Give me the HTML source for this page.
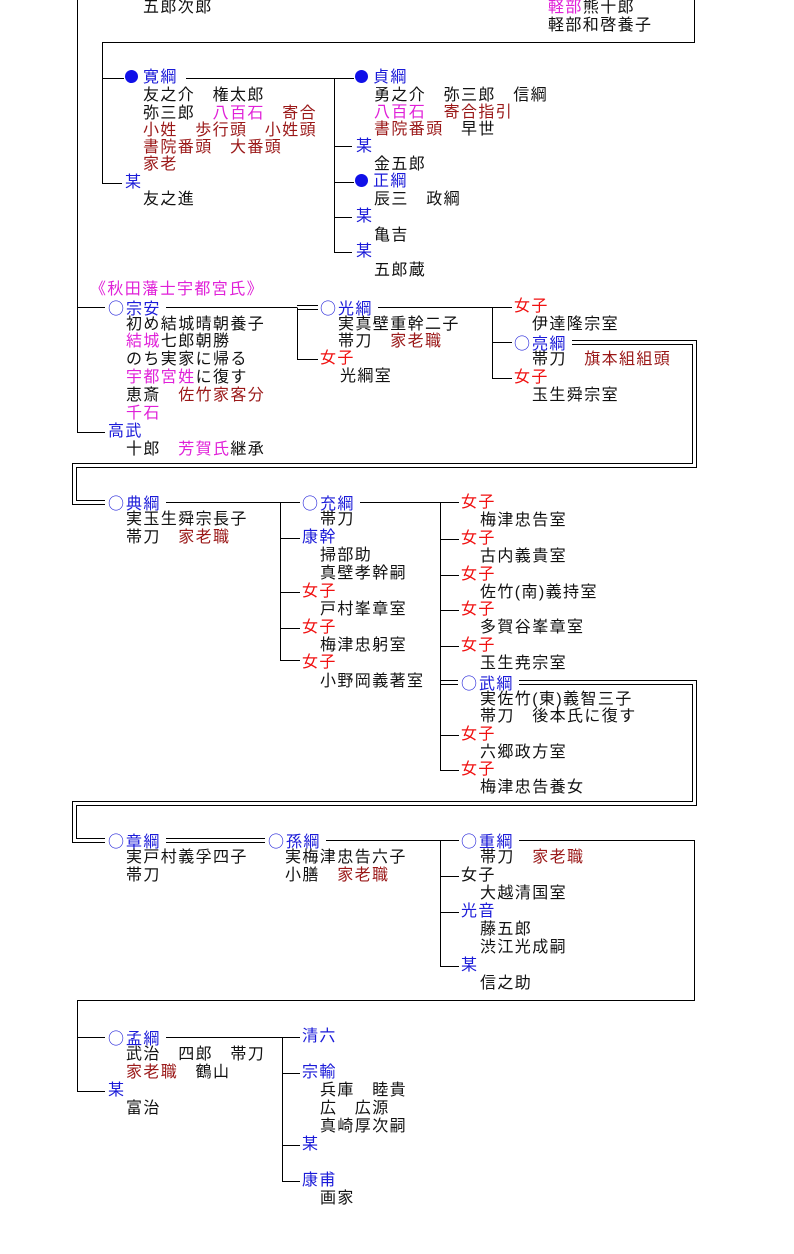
<!DOCTYPE html>
<html><head><meta charset="utf-8">
<style>
body{margin:0;background:#fff;width:794px;height:1254px;overflow:hidden;position:relative;font-family:"Liberation Sans","Noto Sans CJK JP",sans-serif;}
.t{position:absolute;font-size:16px;line-height:18px;letter-spacing:1.4px;white-space:nowrap;color:#111;}
.b{color:#1a1ad8}.r{color:#f01010}.d{color:#9a1818}.m{color:#e020d8}
.h{background:#fff;padding-right:5px}
.c{font-family:"Noto Sans CJK JP",sans-serif;letter-spacing:0;display:inline-block;width:18px}
.f{display:inline-block;width:13px;height:13px;border-radius:50%;background:#1010e8;margin-right:5px;vertical-align:-1px}
svg{position:absolute;left:0;top:0}
</style></head><body>
<svg width="794" height="1254" shape-rendering="crispEdges" fill="none" stroke="#000" stroke-width="1">
<path d="M77.5 0V432.5H105M77.5 307.5H105"/>
<path d="M694.5 0V42.5H102.5V183.5H122M102.5 78.5H124M186 78.5H354M334.5 78.5V252.5H352M334.5 146.5H352M334.5 182.5H354M334.5 217.5H352"/>
<path d="M158 307.5H297M297.5 307.5V359.5H318"/>
<path d="M297 305.5H318M297 309.5H318"/>
<path d="M360 307.5H512M492.5 307.5V378.5H512M492.5 342.5H512"/>
<path d="M565 340.5H696.5V467.5H76.5V500.5H105M565 344.5H692.5V463.5H72.5V504.5H105"/>
<path d="M160 502.5H300M280.5 502.5V660.5H300M280.5 538.5H300M280.5 592.5H300M280.5 628.5H300"/>
<path d="M356 502.5H459M440.5 502.5V770.5H459M440.5 539.5H459M440.5 575.5H459M440.5 610.5H459M440.5 646.5H459M440.5 735.5H459"/>
<path d="M440 680.5H458M440 684.5H458"/>
<path d="M515 680.5H696.5V805.5H76.5V838.5H105M515 684.5H692.5V801.5H72.5V842.5H105"/>
<path d="M162 838.5H265M162 842.5H265"/>
<path d="M322 840.5H459M440.5 840.5V966.5H459M440.5 876.5H459M440.5 912.5H459"/>
<path d="M515 840.5H694.5V1000.5H77.5V1091.5H105M77.5 1037.5H105"/>
<path d="M160 1037.5H300M282.5 1037.5V1181.5H300M282.5 1073.5H300M282.5 1145.5H300"/>
</svg>

<div class="t" style="left:143px;top:-1px">五郎次郎</div>
<div class="t" style="left:548px;top:-1px"><span class="m">軽部</span>熊十郎</div>
<div class="t" style="left:548px;top:17px">軽部和啓養子</div>

<div class="t b h" style="left:125px;top:69px"><span class="f"></span>寛綱</div>
<div class="t" style="left:143px;top:87px">友之介　権太郎</div>
<div class="t" style="left:143px;top:105px">弥三郎　<span class="m">八百石</span>　<span class="d">寄合</span></div>
<div class="t d" style="left:143px;top:122px">小姓　歩行頭　小姓頭</div>
<div class="t d" style="left:143px;top:139px">書院番頭　大番頭</div>
<div class="t d" style="left:143px;top:156px">家老</div>
<div class="t b" style="left:125px;top:174px">某</div>
<div class="t" style="left:143px;top:191px">友之進</div>

<div class="t b" style="left:355px;top:69px"><span class="f"></span>貞綱</div>
<div class="t" style="left:374px;top:87px">勇之介　弥三郎　信綱</div>
<div class="t d" style="left:374px;top:104px"><span class="m">八百石</span>　寄合指引</div>
<div class="t" style="left:374px;top:121px"><span class="d">書院番頭</span>　早世</div>
<div class="t b" style="left:356px;top:138px">某</div>
<div class="t" style="left:374px;top:156px">金五郎</div>
<div class="t b" style="left:355px;top:173px"><span class="f"></span>正綱</div>
<div class="t" style="left:374px;top:191px">辰三　政綱</div>
<div class="t b" style="left:356px;top:208px">某</div>
<div class="t" style="left:374px;top:227px">亀吉</div>
<div class="t b" style="left:356px;top:243px">某</div>
<div class="t" style="left:374px;top:262px">五郎蔵</div>

<div class="t m" style="left:90px;top:281px">《秋田藩士宇都宮氏》</div>
<div class="t b h" style="left:108px;top:298px"><span class="c">○</span>宗安</div>
<div class="t" style="left:126px;top:316px">初め結城晴朝養子</div>
<div class="t" style="left:126px;top:333px"><span class="m">結城</span>七郎朝勝</div>
<div class="t" style="left:126px;top:351px">のち実家に帰る</div>
<div class="t" style="left:126px;top:369px"><span class="m">宇都宮姓</span>に復す</div>
<div class="t" style="left:126px;top:387px">恵斎　<span class="d">佐竹家客分</span></div>
<div class="t m" style="left:126px;top:405px">千石</div>
<div class="t b" style="left:108px;top:423px">高武</div>
<div class="t" style="left:126px;top:441px">十郎　<span class="m">芳賀氏</span>継承</div>

<div class="t b h" style="left:320px;top:298px"><span class="c">○</span>光綱</div>
<div class="t" style="left:338px;top:316px">実真壁重幹二子</div>
<div class="t" style="left:338px;top:333px">帯刀　<span class="d">家老職</span></div>
<div class="t r" style="left:320px;top:350px">女子</div>
<div class="t" style="left:340px;top:368px">光綱室</div>

<div class="t r" style="left:514px;top:298px">女子</div>
<div class="t" style="left:532px;top:316px">伊達隆宗室</div>
<div class="t b h" style="left:514px;top:333px"><span class="c">○</span>亮綱</div>
<div class="t" style="left:532px;top:351px">帯刀　<span class="d">旗本組組頭</span></div>
<div class="t r" style="left:514px;top:369px">女子</div>
<div class="t" style="left:532px;top:387px">玉生舜宗室</div>

<div class="t b h" style="left:108px;top:493px"><span class="c">○</span>典綱</div>
<div class="t" style="left:126px;top:511px">実玉生舜宗長子</div>
<div class="t" style="left:126px;top:529px">帯刀　<span class="d">家老職</span></div>

<div class="t b h" style="left:302px;top:493px"><span class="c">○</span>充綱</div>
<div class="t" style="left:320px;top:511px">帯刀</div>
<div class="t b" style="left:302px;top:529px">康幹</div>
<div class="t" style="left:320px;top:547px">掃部助</div>
<div class="t" style="left:320px;top:565px">真壁孝幹嗣</div>
<div class="t r" style="left:302px;top:583px">女子</div>
<div class="t" style="left:320px;top:601px">戸村峯章室</div>
<div class="t r" style="left:302px;top:619px">女子</div>
<div class="t" style="left:320px;top:637px">梅津忠躬室</div>
<div class="t r" style="left:302px;top:654px">女子</div>
<div class="t" style="left:320px;top:673px">小野岡義著室</div>

<div class="t r" style="left:461px;top:494px">女子</div>
<div class="t" style="left:480px;top:512px">梅津忠告室</div>
<div class="t r" style="left:461px;top:530px">女子</div>
<div class="t" style="left:480px;top:548px">古内義貴室</div>
<div class="t r" style="left:461px;top:566px">女子</div>
<div class="t" style="left:480px;top:584px">佐竹(南)義持室</div>
<div class="t r" style="left:461px;top:601px">女子</div>
<div class="t" style="left:480px;top:619px">多賀谷峯章室</div>
<div class="t r" style="left:461px;top:637px">女子</div>
<div class="t" style="left:480px;top:655px">玉生尭宗室</div>
<div class="t b h" style="left:461px;top:673px"><span class="c">○</span>武綱</div>
<div class="t" style="left:480px;top:691px">実佐竹(東)義智三子</div>
<div class="t" style="left:480px;top:708px">帯刀　後本氏に復す</div>
<div class="t r" style="left:461px;top:726px">女子</div>
<div class="t" style="left:480px;top:744px">六郷政方室</div>
<div class="t r" style="left:461px;top:761px">女子</div>
<div class="t" style="left:480px;top:779px">梅津忠告養女</div>

<div class="t b h" style="left:108px;top:831px"><span class="c">○</span>章綱</div>
<div class="t" style="left:126px;top:849px">実戸村義孚四子</div>
<div class="t" style="left:126px;top:867px">帯刀</div>
<div class="t b h" style="left:268px;top:831px"><span class="c">○</span>孫綱</div>
<div class="t" style="left:285px;top:849px">実梅津忠告六子</div>
<div class="t" style="left:285px;top:867px">小膳　<span class="d">家老職</span></div>

<div class="t b h" style="left:461px;top:831px"><span class="c">○</span>重綱</div>
<div class="t" style="left:480px;top:849px">帯刀　<span class="d">家老職</span></div>
<div class="t" style="left:461px;top:867px">女子</div>
<div class="t" style="left:480px;top:885px">大越清国室</div>
<div class="t b" style="left:461px;top:903px">光音</div>
<div class="t" style="left:480px;top:921px">藤五郎</div>
<div class="t" style="left:480px;top:939px">渋江光成嗣</div>
<div class="t b" style="left:461px;top:957px">某</div>
<div class="t" style="left:480px;top:975px">信之助</div>

<div class="t b h" style="left:108px;top:1028px"><span class="c">○</span>孟綱</div>
<div class="t" style="left:126px;top:1046px">武治　四郎　帯刀</div>
<div class="t" style="left:126px;top:1064px"><span class="d">家老職</span>　鶴山</div>
<div class="t b" style="left:108px;top:1082px">某</div>
<div class="t" style="left:126px;top:1100px">富治</div>

<div class="t b" style="left:302px;top:1028px">清六</div>
<div class="t b" style="left:302px;top:1064px">宗輸</div>
<div class="t" style="left:320px;top:1082px">兵庫　睦貴</div>
<div class="t" style="left:320px;top:1100px">広　広源</div>
<div class="t" style="left:320px;top:1118px">真崎厚次嗣</div>
<div class="t b" style="left:302px;top:1136px">某</div>
<div class="t b" style="left:302px;top:1172px">康甫</div>
<div class="t" style="left:320px;top:1190px">画家</div>
</body></html>
